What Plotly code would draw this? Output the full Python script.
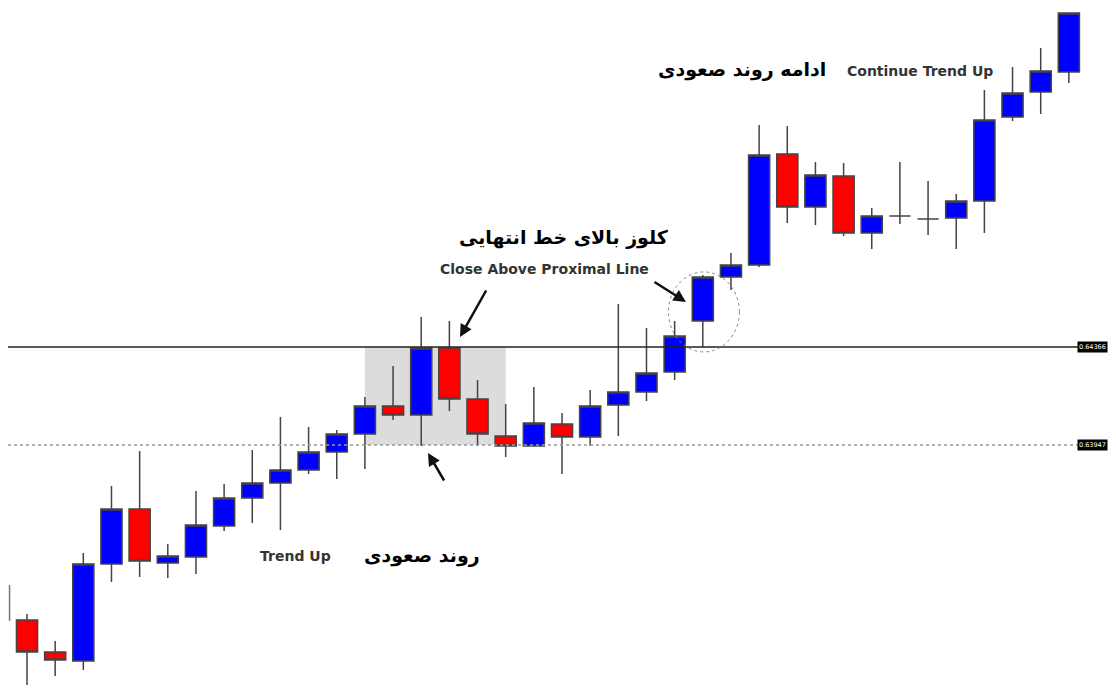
import plotly.graph_objects as go

# Candle data (price units)
opens  = [0.63199, 0.63062, 0.63024, 0.63438, 0.63673, 0.63443, 0.63468, 0.63601, 0.63720, 0.63785,
          0.63840, 0.63917, 0.63994, 0.64114, 0.64075, 0.64362, 0.64144, 0.63986, 0.63943, 0.64037,
          0.63981, 0.64118, 0.64174, 0.64259, 0.64477, 0.64665, 0.64717, 0.65191, 0.64965, 0.65097,
          0.64853, 0.64926, 0.64913, 0.64918, 0.64990, 0.65349, 0.65456, 0.65542]
highs  = [0.63224, 0.63109, 0.63485, 0.63772, 0.63921, 0.63524, 0.63750, 0.63780, 0.63926, 0.64067,
          0.64024, 0.64011, 0.64152, 0.64285, 0.64494, 0.64477, 0.64225, 0.64122, 0.64195, 0.64084,
          0.64182, 0.64550, 0.64447, 0.64477, 0.64674, 0.64768, 0.65315, 0.65311, 0.65157, 0.65153,
          0.64960, 0.65157, 0.65076, 0.65020, 0.65465, 0.65563, 0.65644, 0.65794]
lows   = [0.62891, 0.62959, 0.62985, 0.63361, 0.63383, 0.63378, 0.63396, 0.63579, 0.63614, 0.63584,
          0.63823, 0.63802, 0.63844, 0.64054, 0.63943, 0.64092, 0.63943, 0.63896, 0.63943, 0.63823,
          0.63943, 0.63986, 0.64135, 0.64225, 0.64366, 0.64610, 0.64708, 0.64896, 0.64888, 0.64841,
          0.64785, 0.64892, 0.64845, 0.64785, 0.64853, 0.65332, 0.65362, 0.65495]
closes = [0.63062, 0.63028, 0.63438, 0.63673, 0.63451, 0.63472, 0.63605, 0.63720, 0.63785, 0.63840,
          0.63917, 0.63994, 0.64114, 0.64075, 0.64362, 0.64144, 0.63994, 0.63943, 0.64041, 0.63981,
          0.64114, 0.64174, 0.64255, 0.64413, 0.64665, 0.64717, 0.65187, 0.64965, 0.65101, 0.64853,
          0.64926, 0.64926, 0.64913, 0.64990, 0.65337, 0.65452, 0.65546, 0.65794]
bar_index = list(range(len(opens)))

# partial wick at the left edge (candle cut off by the image border)
edge_wick_x = [-0.62, -0.62]
edge_wick_y = [0.63348, 0.63195]

proximal_line = 0.64366
distal_line = 0.63947
proximal_label = "0.64366"
distal_label = "0.63947"

zone_start, zone_end = 12, 17       # indices of candles bounding the grey zone
circle_x = [22.78, 25.30]
circle_y = [0.64345, 0.64687]

# the page body has an 8px margin; the figure is sized so the page does not overflow
OFF = 8
W, H = 1116 - 2 * OFF, 693 - 2 * OFF
x_range = [-0.675, 38.39]
y_range = [0.629209, 0.658154]

def px(x):
    return (x - OFF) / W

def py(y):
    return 1 - (y - OFF) / H

fig = go.Figure()

fig.add_trace(go.Candlestick(
    x=bar_index, open=opens, high=highs, low=lows, close=closes,
    increasing=dict(fillcolor="#0000ff", line=dict(color="#444444", width=1.5)),
    decreasing=dict(fillcolor="#ff0000", line=dict(color="#444444", width=1.5)),
    whiskerwidth=0, showlegend=False, hoverinfo="skip",
))

fig.add_trace(go.Scatter(
    x=edge_wick_x, y=edge_wick_y, mode="lines",
    line=dict(color="#777777", width=1.5), showlegend=False, hoverinfo="skip",
))

shapes = [
    dict(type="rect", xref="x", yref="y", x0=zone_start, x1=zone_end,
         y0=distal_line, y1=proximal_line, fillcolor="#dcdcdc", line=dict(width=0), layer="below"),
    dict(type="line", xref="paper", yref="y", x0=px(8), x1=px(1080),
         y0=proximal_line, y1=proximal_line, line=dict(color="#222222", width=1.5)),
    dict(type="line", xref="paper", yref="y", x0=px(8), x1=px(1080),
         y0=distal_line, y1=distal_line, line=dict(color="#999999", width=1.5, dash="dot")),
    dict(type="circle", xref="x", yref="y", x0=circle_x[0], x1=circle_x[1],
         y0=circle_y[0], y1=circle_y[1], line=dict(color="#888888", width=1, dash="dot")),
]

fa_font = dict(family="DejaVu Sans", size=19, color="#000000", weight="bold")
en_font = dict(family="DejaVu Sans", size=14, color="#333333", weight="bold")
tag_font = dict(family="DejaVu Sans", size=6.5, color="#ffffff")

annotations = [
    dict(text="ادامه روند صعودی", x=px(742), y=py(70), font=fa_font),
    dict(text="Continue Trend Up", x=px(920), y=py(71), font=en_font),
    dict(text="کلوز بالای خط انتهایی", x=px(564), y=py(237), font=fa_font),
    dict(text="Close Above Proximal Line", x=px(544), y=py(269), font=en_font),
    dict(text="Trend Up", x=px(295), y=py(556), font=en_font),
    dict(text="روند صعودی", x=px(422), y=py(555), font=fa_font),
    # arrows
    dict(text="", x=px(460), y=py(337), ax=27, ay=-48, showarrow=True,
         arrowhead=2, arrowsize=1, arrowwidth=2.5, arrowcolor="#111111"),
    dict(text="", x=px(428), y=py(453), ax=17, ay=29, showarrow=True,
         arrowhead=2, arrowsize=1, arrowwidth=2.5, arrowcolor="#111111"),
    dict(text="", x=px(686), y=py(302), ax=-33, ay=-21, showarrow=True,
         arrowhead=2, arrowsize=1, arrowwidth=2.5, arrowcolor="#111111"),
    # price tags
    dict(text=proximal_label, x=1, y=proximal_line, yref="y", xanchor="right",
         bgcolor="#000000", font=tag_font, borderpad=1),
    dict(text=distal_label, x=1, y=distal_line, yref="y", xanchor="right",
         bgcolor="#000000", font=tag_font, borderpad=1),
]
for a in annotations:
    a.setdefault("xref", "paper")
    a.setdefault("yref", "paper")
    a.setdefault("showarrow", False)
    a.setdefault("xanchor", "center")
    a.setdefault("yanchor", "middle")

fig.update_layout(
    width=W, height=H,
    margin=dict(l=0, r=0, t=0, b=0),
    paper_bgcolor="#ffffff", plot_bgcolor="#ffffff",
    boxgap=0.25, boxgroupgap=0,
    shapes=shapes, annotations=annotations,
    xaxis=dict(range=x_range, visible=False, rangeslider=dict(visible=False),
               showgrid=False, zeroline=False),
    yaxis=dict(range=y_range, visible=False, showgrid=False, zeroline=False),
    showlegend=False,
)

fig.write_html("out.html")
